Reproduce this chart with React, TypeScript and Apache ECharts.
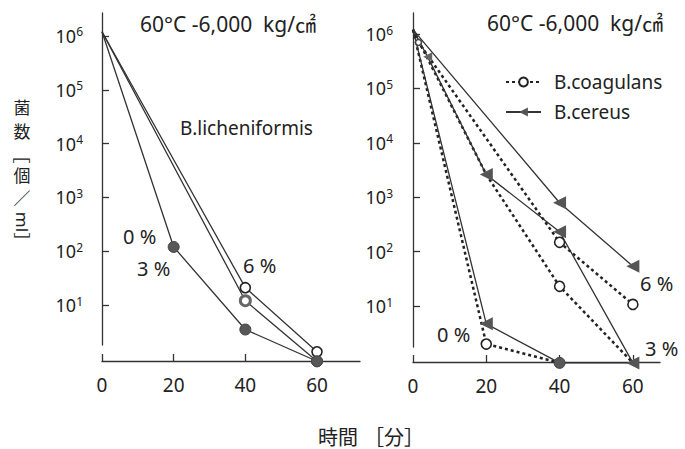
import { useEffect, useRef } from 'react';
import * as echarts from 'echarts';

const LATIN = '"Noto Sans", "Noto Sans CJK JP", sans-serif';
const CJK = '"Noto Sans CJK JP", "Noto Sans", sans-serif';
const INK = '#222';

// axis ticks
const timeTicks = [0, 20, 40, 60];
const countTicks = [1e1, 1e2, 1e3, 1e4, 1e5, 1e6];

// Left panel: B.licheniformis  [time (min), count (/ml)]
const lich0 = [[0, 1.2e6], [20, 120], [40, 3.5], [60, 0.9]];
const lich6open = [[0, 1.2e6], [40, 21], [60, 1.35]];
const lich6ring = [[0, 1.2e6], [40, 12], [60, 0.9]];

// Right panel: B.coagulans (dashed, open circles)
const coag6 = [[0, 1.2e6], [1.5, 7e5], [40, 148], [60, 10.7]];
const coag3 = [[0, 1.2e6], [20, 2.6e3], [40, 23], [60, 0.9]];
const coag0 = [[0, 1.2e6], [20, 2.0], [40, 0.9]];
// Right panel: B.cereus (solid, triangles)
const cer6 = [[0, 1.2e6], [40, 790], [60, 54]];
const cer3 = [[0, 1.2e6], [4, 3.8e5], [20, 2.6e3], [40, 232], [60, 0.9]];
const cer0 = [[0, 1.2e6], [20, 4.7], [40, 0.9], [60, 0.9]];

const NONE = { symbol: 'none' };
const FILLED = { symbol: 'circle', symbolSize: 11, itemStyle: { color: '#585858', borderColor: '#444', borderWidth: 1 } };
const OPEN = { symbol: 'circle', symbolSize: 10, itemStyle: { color: '#fff', borderColor: '#222', borderWidth: 1.6 } };
const SMALLOPEN = { symbol: 'circle', symbolSize: 6, itemStyle: { color: '#fff', borderColor: '#444', borderWidth: 1.6 } };
const RING = { symbol: 'circle', symbolSize: 10, itemStyle: { color: '#fff', borderColor: '#666', borderWidth: 3 } };
const TRI = { symbol: 'triangle', symbolSize: 13, symbolRotate: 90, itemStyle: { color: '#555' } };
const SMALLTRI = { symbol: 'triangle', symbolSize: 9, symbolRotate: 90, itemStyle: { color: '#666' } };

function pts(data: number[][], marks: any[]) {
  return data.map((d, i) => ({ value: d, ...(marks[i] || NONE) }));
}

const solid = { color: '#333', width: 1.3, type: 'solid' };
const dashed = { color: '#222', width: 2.5, type: [3, 3] };

function logLabel(v: number) {
  return `{a|10}{b|${Math.round(Math.log10(v))}}`;
}

function xAxisCfg(gridIndex: number, max: number, offset: number) {
  return {
    gridIndex, type: 'value', min: 0, max, position: 'bottom', offset,
    axisLine: { show: true, onZero: false, lineStyle: { color: '#333', width: 1.3 } },
    axisTick: { show: true, inside: true, length: 7, customValues: timeTicks, lineStyle: { color: '#333', width: 1.3 } },
    axisLabel: { customValues: timeTicks, margin: 14, fontSize: 19, color: INK, fontFamily: LATIN },
    splitLine: { show: false },
  };
}

function yAxisCfg(gridIndex: number, min: number, max: number, offset: number) {
  return {
    gridIndex, type: 'log', logBase: 10, min, max, position: 'left', offset,
    axisLine: { show: true, lineStyle: { color: '#333', width: 1.3 } },
    axisTick: { show: true, inside: true, length: 7, customValues: countTicks, lineStyle: { color: '#333', width: 1.3 } },
    axisLabel: {
      customValues: countTicks, margin: 5, formatter: logLabel,
      rich: {
        a: { fontSize: 18, fontFamily: LATIN, color: INK, lineHeight: 20 },
        b: { fontSize: 12, fontFamily: LATIN, color: INK, lineHeight: 12, verticalAlign: 'top' },
      },
    },
    splitLine: { show: false },
  };
}

function txt(text: string, x: number, y: number, size: number, font = LATIN, rotation = 0, align = 'left') {
  return {
    type: 'text', x, y, rotation, z: 10,
    style: {
      text, fontSize: size, fontFamily: font, fill: INK,
      align, verticalAlign: 'middle', textAlign: align, textVerticalAlign: 'middle',
    },
  };
}

export default function App() {
  const ref = useRef<HTMLDivElement>(null);
  useEffect(() => {
    const chart = echarts.init(ref.current!, null, { renderer: 'svg' });
    const line = (name: string, axis: number, data: any[], ls: any, base: any) => ({
      type: 'line', name, xAxisIndex: axis, yAxisIndex: axis, data, clip: false,
      lineStyle: ls, ...base, z: 3,
    });
    const option: any = {
      animation: false,
      backgroundColor: '#fff',
      grid: [
        { left: 102, top: 13, width: 258, height: 332 },
        { left: 413, top: 13, width: 247, height: 334 },
      ],
      xAxis: [xAxisCfg(0, 72, 16), xAxisCfg(1, 67.4, 15)],
      yAxis: [yAxisCfg(0, 1.805, 2.674e6, 14), yAxisCfg(1, 1.763, 2.432e6, 15)],
      legend: {
        data: ['B.coagulans', 'B.cereus'],
        orient: 'vertical', left: 505, top: 72, padding: 0,
        itemWidth: 35, itemHeight: 11, itemGap: 10,
        textStyle: { fontSize: 19, fontFamily: LATIN, color: INK, lineHeight: 20, padding: [0, 0, 0, 8] },
      },
      series: [
        line('lich0', 0, pts(lich0, [NONE, FILLED, FILLED, FILLED]), solid, { symbol: 'circle' }),
        line('lich6o', 0, pts(lich6open, [NONE, OPEN, OPEN]), solid, { symbol: 'circle' }),
        line('lich6r', 0, pts(lich6ring, [NONE, RING, FILLED]), solid, { symbol: 'circle' }),
        line('B.coagulans', 1, pts(coag6, [NONE, SMALLOPEN, OPEN, OPEN]), dashed, { ...OPEN, symbolSize: 9 }),
        line('B.coagulans', 1, pts(coag3, [NONE, NONE, OPEN, NONE]), dashed, { ...OPEN, symbolSize: 9 }),
        line('B.coagulans', 1, pts(coag0, [NONE, OPEN, NONE]), dashed, { ...OPEN, symbolSize: 9 }),
        line('B.cereus', 1, pts(cer6, [NONE, TRI, TRI]), solid, TRI),
        line('B.cereus', 1, pts(cer3, [NONE, SMALLTRI, TRI, TRI, TRI]), solid, TRI),
        line('B.cereus', 1, pts(cer0, [NONE, TRI, FILLED, NONE]), solid, TRI),
      ],
      graphic: [
        txt('60°C -6,000  kg/㎠', 140, 24, 21),
        txt('B.licheniformis', 180, 128, 19),
        txt('0 %', 123, 236, 20),
        txt('3 %', 137, 268, 20),
        txt('6 %', 243, 265, 20),
        txt('60°C -6,000  kg/㎠', 487, 23, 21),
        txt('6 %', 640, 283, 20),
        txt('3 %', 645, 348, 20),
        txt('0 %', 437, 334, 20),
        txt('時間', 318, 436, 20, CJK),
        txt('［分］', 364, 436, 20, CJK),
        txt('菌', 22, 106, 17, CJK, 0, 'center'),
        txt('数', 22, 130, 17, CJK, 0, 'center'),
        txt('［', 22, 155, 17, CJK, -Math.PI / 2, 'center'),
        txt('個', 22, 174, 17, CJK, 0, 'center'),
        txt('／', 22, 197, 17, CJK, 0, 'center'),
        txt('ml', 22, 222, 17, LATIN, -Math.PI / 2, 'center'),
        txt('］', 22, 241, 17, CJK, -Math.PI / 2, 'center'),
      ],
    };
    chart.setOption(option);
    return () => chart.dispose();
  }, []);
  return <div ref={ref} style={{ position: 'fixed', left: 0, top: 0, width: 685, height: 449, background: '#fff' }} />;
}
